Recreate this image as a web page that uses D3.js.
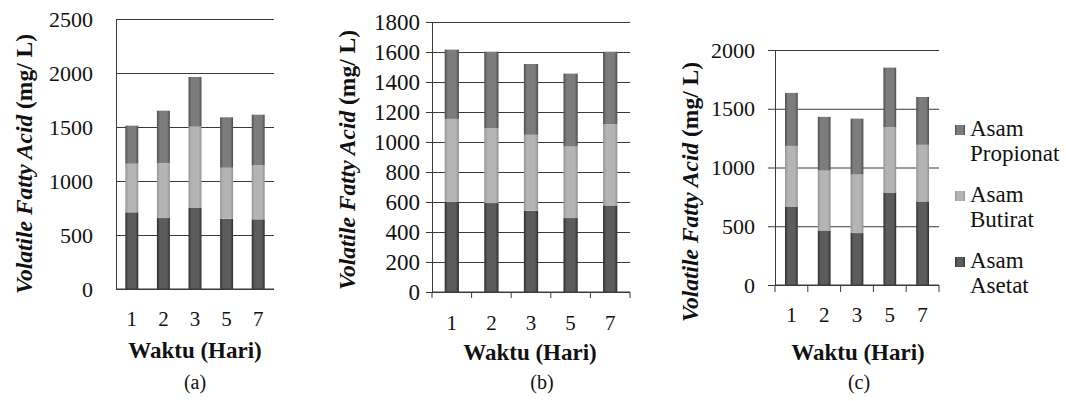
<!DOCTYPE html>
<html>
<head>
<meta charset="utf-8">
<script src="https://cdn.jsdelivr.net/npm/d3@7"></script>
<style>
body { margin: 0; background: #fff; }
svg, svg text { font-family: "Liberation Serif", "Times New Roman", Times, Tinos, "DejaVu Serif", "Noto Serif", serif; }
svg { display: block; }
</style>
</head>
<body>
<svg width="1066" height="401"></svg>
<script>
// kategori hari
var days = ["1", "2", "3", "5", "7"];
var seriesKeys = ["asetat", "butirat", "propionat"];
var legendLines = [["Asam", "Propionat"], ["Asam", "Butirat"], ["Asam", "Asetat"]];

// (a)
var asetatA = [710, 657, 750, 651, 645];
var butiratA = [450, 510, 753, 472, 503];
var propionatA = [352, 484, 460, 467, 466];
// (b)
var asetatB = [601, 593, 541, 493, 577];
var butiratB = [553, 499, 507, 477, 542];
var propionatB = [462, 510, 472, 486, 483];
// (c)
var asetatC = [668, 464, 442, 787, 711];
var butiratC = [516, 510, 498, 556, 482];
var propionatC = [451, 457, 476, 507, 407];

var ticksA = [0, 500, 1000, 1500, 2000, 2500];
var ticksB = [0, 200, 400, 600, 800, 1000, 1200, 1400, 1600, 1800];
var ticksC = [0, 500, 1000, 1500, 2000];

var xTitle = "Waktu (Hari)";
var captions = ["(a)", "(b)", "(c)"];

var svg = d3.select("svg");
var lineColor = "#3a3a3a";

// gradien batang (tepi gelap, tengah terang)
var shades = {
    asetat: ["#2e2e2e", "#5c5c5c"],
    butirat: ["#949494", "#b4b4b4"],
    propionat: ["#4e4e4e", "#7c7c7c"]
};
var defs = svg.append("defs");
seriesKeys.forEach(function (k) {
    var grad = defs.append("linearGradient")
        .attr("id", "grad-" + k)
        .attr("x1", "0%").attr("x2", "100%").attr("y1", "0%").attr("y2", "0%");
    grad.append("stop").attr("offset", "0%").attr("stop-color", shades[k][0]);
    grad.append("stop").attr("offset", "22%").attr("stop-color", shades[k][1]);
    grad.append("stop").attr("offset", "78%").attr("stop-color", shades[k][1]);
    grad.append("stop").attr("offset", "100%").attr("stop-color", shades[k][0]);
});

function panel(cfg) {
    var g = svg.append("g");
    var w = cfg.right - cfg.left;

    var x = d3.scaleBand()
        .domain(days)
        .range([cfg.left, cfg.right])
        .paddingInner(cfg.pad)
        .paddingOuter(cfg.pad / 2);
    var y = d3.scaleLinear()
        .domain([0, d3.max(cfg.ticks)])
        .range([cfg.bottom, cfg.top]);

    // garis grid
    var grid = g.append("g")
        .attr("transform", "translate(" + cfg.left + ",0)")
        .call(d3.axisLeft(y).tickValues(cfg.ticks).tickSize(-w).tickFormat(""));
    grid.select(".domain").remove();
    grid.selectAll("line").attr("stroke", lineColor);

    // label sumbu y
    var ya = g.append("g")
        .attr("transform", "translate(" + cfg.left + ",0)")
        .call(d3.axisLeft(y).tickValues(cfg.ticks).tickSize(cfg.tick)
            .tickPadding(cfg.yPad).tickFormat(d3.format("d")));
    ya.attr("font-family", null).attr("font-size", cfg.yFont);
    ya.select(".domain").attr("stroke", lineColor);
    ya.selectAll("line").attr("stroke", lineColor);
    ya.selectAll("text").attr("fill", "#111");

    // batang bertumpuk
    var rows = days.map(function (d, i) {
        return { day: d, asetat: cfg.data[0][i], butirat: cfg.data[1][i], propionat: cfg.data[2][i] };
    });
    var stacked = d3.stack().keys(seriesKeys)(rows);
    g.selectAll(".layer")
        .data(stacked)
        .enter()
        .append("g")
        .attr("fill", function (s) { return "url(#grad-" + s.key + ")"; })
        .selectAll("rect")
        .data(function (s) { return s; })
        .enter()
        .append("rect")
        .attr("x", function (d) { return x(d.data.day); })
        .attr("width", x.bandwidth())
        .attr("y", function (d) { return y(d[1]); })
        .attr("height", function (d) { return y(d[0]) - y(d[1]); });

    // sumbu x
    var xa = g.append("g")
        .attr("transform", "translate(0," + cfg.bottom + ")")
        .call(d3.axisBottom(x).tickSize(0).tickPadding(cfg.xPad));
    xa.attr("font-family", null).attr("font-size", 21);
    xa.select(".domain").remove();
    xa.selectAll("text").attr("fill", "#111");
    g.append("line")
        .attr("x1", cfg.left).attr("x2", cfg.right)
        .attr("y1", cfg.bottom).attr("y2", cfg.bottom)
        .attr("stroke", lineColor);
    if (cfg.tick > 0) {
        g.selectAll(".xtick")
            .data(d3.range(days.length + 1))
            .enter()
            .append("line")
            .attr("x1", function (i) { return cfg.left + i * x.step(); })
            .attr("x2", function (i) { return cfg.left + i * x.step(); })
            .attr("y1", cfg.bottom)
            .attr("y2", cfg.bottom + cfg.tick)
            .attr("stroke", lineColor);
    }

    // judul sumbu y
    var yt = g.append("text")
        .attr("transform", "translate(" + cfg.yTitle[0] + "," + cfg.yTitle[1] + ") rotate(-90)")
        .attr("text-anchor", "middle")
        .attr("font-size", 23.5)
        .attr("font-weight", "bold")
        .attr("fill", "#111");
    yt.append("tspan").attr("font-style", "italic").text("Volatile Fatty Acid");
    yt.append("tspan").text(" (mg/ L)");

    // judul sumbu x
    g.append("text")
        .attr("x", cfg.xTitle[0])
        .attr("y", cfg.xTitle[1])
        .attr("text-anchor", "middle")
        .attr("font-size", 23)
        .attr("font-weight", "bold")
        .attr("fill", "#111")
        .text(xTitle);

    g.append("text")
        .attr("x", cfg.caption[0])
        .attr("y", cfg.caption[1])
        .attr("text-anchor", "middle")
        .attr("font-size", 20)
        .attr("fill", "#111")
        .text(cfg.label);
}

panel({
    data: [asetatA, butiratA, propionatA], ticks: ticksA, label: captions[0],
    left: 116, right: 274, top: 19, bottom: 289, pad: 0.59, tick: 0, yPad: 23, xPad: 22, yFont: 22,
    yTitle: [32, 164], xTitle: [195, 358], caption: [195, 389]
});
panel({
    data: [asetatB, butiratB, propionatB], ticks: ticksB, label: captions[1],
    left: 432, right: 630, top: 22, bottom: 292, pad: 0.64, tick: 6, yPad: 6, xPad: 23, yFont: 23,
    yTitle: [355, 160], xTitle: [530, 360], caption: [542, 389]
});
panel({
    data: [asetatC, butiratC, propionatC], ticks: ticksC, label: captions[2],
    left: 775, right: 939, top: 50, bottom: 285, pad: 0.61, tick: 7, yPad: 13, xPad: 22, yFont: 22,
    yTitle: [698, 192], xTitle: [858, 360], caption: [859, 389]
});

// legenda
var legend = svg.append("g").attr("transform", "translate(955,0)");
var legendKeys = ["propionat", "butirat", "asetat"];
var legendY = [136, 202, 268];
legendKeys.forEach(function (k, i) {
    legend.append("rect")
        .attr("x", 0).attr("y", legendY[i] - 11)
        .attr("width", 10).attr("height", 10)
        .attr("fill", "url(#grad-" + k + ")");
    var t = legend.append("text")
        .attr("x", 15).attr("y", legendY[i])
        .attr("font-size", 23)
        .attr("fill", "#111");
    t.append("tspan").text(legendLines[i][0]);
    t.append("tspan").attr("x", 15).attr("dy", 25).text(legendLines[i][1]);
});
</script>
</body>
</html>
